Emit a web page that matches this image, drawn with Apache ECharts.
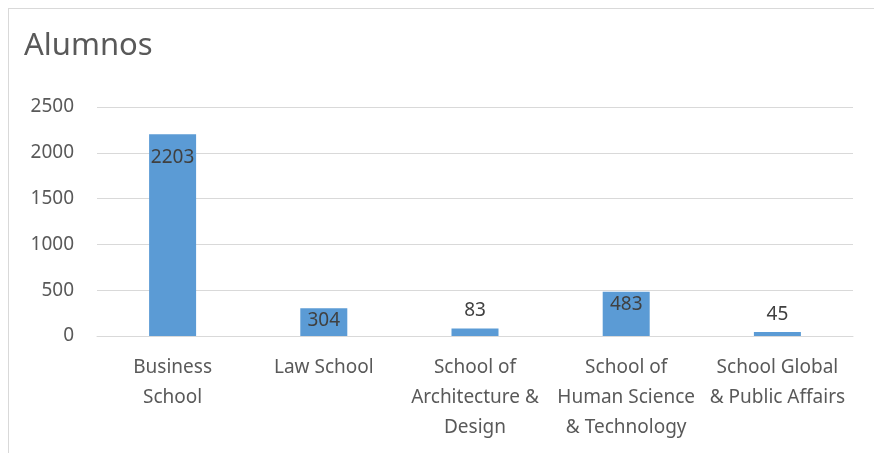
<!DOCTYPE html>
<html>
<head>
<meta charset="utf-8">
<script src="https://cdn.jsdelivr.net/npm/echarts@6/dist/echarts.min.js"></script>
<style>
  html, body { margin: 0; padding: 0; background: #fff; }
  #wrap { position: relative; width: 874px; height: 453px; overflow: hidden; }
  /* marco del gráfico */
  #frame { position: absolute; left: 8px; top: 8px; width: 900px; height: 500px; border: 1px solid #d9d9d9; box-sizing: border-box; }
  #chart { position: absolute; left: 0; top: 0; width: 874px; height: 453px; }
</style>
</head>
<body>
<div id="wrap">
  <div id="frame"></div>
  <div id="chart"></div>
</div>
<script>
// datos
const categories = [
  'Business\nSchool',
  'Law School',
  'School of\nArchitecture &\nDesign',
  'School of\nHuman Science\n& Technology',
  'School Global\n& Public Affairs'
]
const alumnos = [2203, 304, 83, 483, 45]
const yTicks = [0, 500, 1000, 1500, 2000, 2500]

const textColor = '#595959'
const fontFamily = 'Noto Sans, sans-serif'

const chart = echarts.init(document.getElementById('chart'), null, { renderer: 'canvas' })

// barras cortas llevan la etiqueta encima
const seriesData = alumnos.map((v) => {
  return {
    value: v,
    label: v > 200
      ? { position: 'insideTop', distance: v > 1000 ? 14 : 3 }
      : { position: 'top', distance: 8 }
  }
})

const option = {
  animation: false,
  title: {
    text: 'Alumnos',
    left: 19,
    top: 26,
    textStyle: { fontFamily: fontFamily, fontSize: 31, fontWeight: 'normal', color: textColor }
  },
  grid: { left: 97, right: 21, top: 107, bottom: 117 },
  xAxis: {
    type: 'category',
    data: categories,
    axisLine: { lineStyle: { color: '#d9d9d9', width: 1 } },
    axisTick: { show: false },
    axisLabel: {
      interval: 0,
      margin: 17,
      lineHeight: 30,
      color: textColor,
      fontFamily: fontFamily,
      fontSize: 19
    }
  },
  yAxis: {
    type: 'value',
    min: yTicks[0],
    max: yTicks[yTicks.length - 1],
    interval: 500,
    axisLine: { show: false },
    axisTick: { show: false },
    splitLine: { lineStyle: { color: '#d9d9d9', width: 1 } },
    axisLabel: {
      margin: 23,
      color: textColor,
      fontFamily: fontFamily,
      fontSize: 19,
      formatter: (v) => String(v)
    }
  },
  series: [
    {
      type: 'bar',
      data: seriesData,
      barWidth: 47,
      itemStyle: { color: '#5b9bd5' },
      label: {
        show: true,
        color: '#404040',
        fontFamily: fontFamily,
        fontSize: 19
      }
    }
  ]
}
chart.setOption(option)
</script>
</body>
</html>
